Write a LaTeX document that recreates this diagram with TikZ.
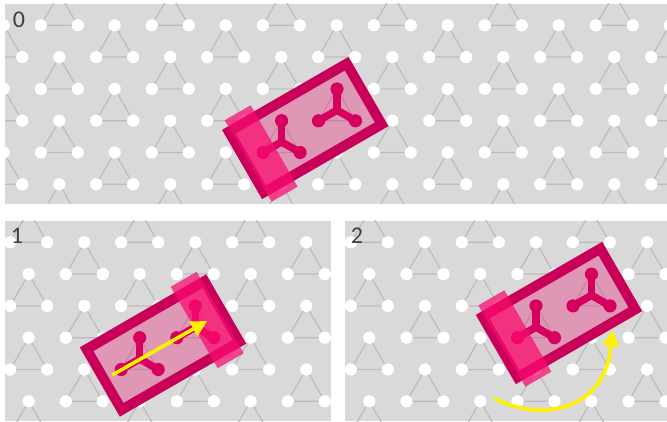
\documentclass[tikz,border=0pt]{standalone}
\usepackage{fontspec}
\setmainfont{Carlito}
\usetikzlibrary{arrows.meta}
\definecolor{panelbg}{RGB}{217,217,217}
\definecolor{latline}{RGB}{188,188,188}
\definecolor{mag}{RGB}{200,0,90}
\definecolor{mol}{RGB}{214,0,95}
\definecolor{bandc}{RGB}{250,10,110}
\definecolor{tint}{RGB}{235,0,100}
\definecolor{labelc}{RGB}{64,64,64}
\tikzset{
  latedge/.style={draw=latline,line width=1.2pt},
  latdot/.style={fill=white},
  molarm/.style={draw=mol,line width=7.5pt,line cap=round},
  moldot/.style={fill=mol},
  carrierfill/.style={fill=tint,fill opacity=.3},
  carrieredge/.style={draw=mag,line width=10pt,miter limit=10},
  bandbox/.style={fill=bandc,fill opacity=.72},
  yarrow/.style={draw=yellow,line width=3.6pt,-{Triangle[length=16pt,width=16pt]}},
  panellabel/.style={font=\fontsize{24}{24}\selectfont,text=labelc,inner sep=0pt}
}
% apex triangle of the lattice
\newcommand{\lattri}[2]{%
  \draw[latedge] (#1,#2) -- (#1-18.5,#2+31.8) -- (#1+18.5,#2+31.8) -- cycle;
  \fill[latdot] (#1,#2) circle[radius=6.1];
  \fill[latdot] (#1-18.5,#2+31.8) circle[radius=6.1];
  \fill[latdot] (#1+18.5,#2+31.8) circle[radius=6.1];
}
% #1 x of A, #2 first y of A, #3 x of B, #4 first y of B
\newcommand{\latfield}[4]{%
  \foreach \k in {-1,...,6}{%
    \foreach \m in {0,...,3}{%
      \pgfmathsetmacro{\xa}{#1+111*\k}\pgfmathsetmacro{\ya}{#2+63.6*\m}%
      \pgfmathsetmacro{\xb}{#3+111*\k}\pgfmathsetmacro{\yb}{#4+63.6*\m}%
      \lattri{\xa}{\ya}\lattri{\xb}{\yb}%
    }%
  }%
}
\newcommand{\molglyph}[2]{%
  \draw[molarm] (#1,#2+21.2) -- (#1,#2);
  \draw[molarm] (#1,#2+21.2) -- (#1-18.5,#2+31.8);
  \draw[molarm] (#1,#2+21.2) -- (#1+18.5,#2+31.8);
  \fill[moldot] (#1,#2) circle[radius=6.6];
  \fill[moldot] (#1-18.5,#2+31.8) circle[radius=6.6];
  \fill[moldot] (#1+18.5,#2+31.8) circle[radius=6.6];
}
\begin{document}
\begin{tikzpicture}[x=1pt,y=-1pt]
\useasboundingbox[fill=white] (0,0) rectangle (667,422);
% ---- panel 0
\begin{scope}
  \clip (5,4) rectangle (667,204);
  \fill[panelbg] (5,4) rectangle (667,204);
  \latfield{114.7}{25.3}{59.3}{-6.5}
  \begin{scope}[shift={(305.3,128)},rotate=30]
    \fill[carrierfill] (-68,-35) rectangle (68,35);
  \end{scope}
  \molglyph{337}{89}
  \molglyph{281.6}{120.7}
  \begin{scope}[shift={(305.3,128)},rotate=30]
    \draw[carrieredge] (-68,-35) rectangle (68,35);
    \fill[bandbox] (-66,-47) rectangle (-36,47);
  \end{scope}
\end{scope}
\node[panellabel] (lab0) at (19,20) {0};
% ---- panel 1
\begin{scope}
  \clip (5,221) rectangle (331,421);
  \fill[panelbg] (5,221) rectangle (331,421);
  \latfield{84.3}{242.3}{28.7}{210.5}
  \begin{scope}[shift={(163,345.5)},rotate=30]
    \fill[carrierfill] (-68,-35) rectangle (68,35);
  \end{scope}
  \molglyph{195.3}{305.9}
  \molglyph{139.7}{337.7}
  \begin{scope}[shift={(163,345.5)},rotate=30]
    \draw[carrieredge] (-68,-35) rectangle (68,35);
    \fill[bandbox] (36,-47) rectangle (66,47);
  \end{scope}
  \coordinate (s1) at (112.3,375);
  \coordinate (e1) at (207.3,321);
  \draw[yarrow] (s1) -- (e1);
\end{scope}
\node[panellabel] (lab1) at (17,236) {1};
% ---- panel 2
\begin{scope}
  \clip (345,221) rectangle (667,421);
  \fill[panelbg] (345,221) rectangle (667,421);
  \latfield{536}{242.3}{480.3}{210.5}
  \begin{scope}[shift={(559,313)},rotate=30]
    \fill[carrierfill] (-68,-35) rectangle (68,35);
  \end{scope}
  \molglyph{591.5}{274.1}
  \molglyph{536}{305.9}
  \begin{scope}[shift={(559,313)},rotate=30]
    \draw[carrieredge] (-68,-35) rectangle (68,35);
    \fill[bandbox] (-66,-47) rectangle (-36,47);
  \end{scope}
  \coordinate (s2) at (494,398.3);
  \coordinate (e2) at (612.3,330);
  \draw[yarrow] (s2) .. controls (545,424) and (606,408) .. (e2);
\end{scope}
\node[panellabel] (lab2) at (357,236) {2};
\end{tikzpicture}
\end{document}
